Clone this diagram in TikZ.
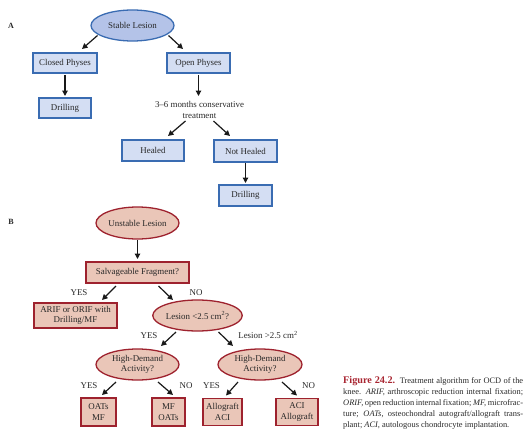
\documentclass[tikz,border=0pt]{standalone}
\usepackage{fontspec}
\setmainfont{Liberation Serif}
\usetikzlibrary{calc,shapes.geometric,arrows.meta}
\definecolor{bluebd}{RGB}{58,108,178}
\definecolor{bluefillE}{RGB}{180,195,232}
\definecolor{bluefill}{RGB}{212,222,243}
\definecolor{redbd}{RGB}{158,34,46}
\definecolor{redfill}{RGB}{234,198,184}
\definecolor{figred}{RGB}{168,36,48}
\definecolor{ink}{RGB}{40,40,40}
\tikzset{
 txt/.style={font=\fontsize{8.9}{10.5}\selectfont, text=ink},
 bA/.style={txt, draw=bluebd, line width=1.3pt, fill=bluefill, inner sep=0pt, rectangle, align=center},
 eA/.style={txt, draw=bluebd, line width=1.3pt, fill=bluefillE, ellipse, inner sep=0pt, align=center},
 bB/.style={txt, draw=redbd, line width=1.3pt, fill=redfill, inner sep=0pt, rectangle, align=center},
 eB/.style={txt, draw=redbd, line width=1.3pt, fill=redfill, ellipse, inner sep=0pt, align=center},
 arr/.style={-{Triangle[length=5.5pt,width=5.5pt]}, line width=1.2pt, black!90},
 lbl/.style={txt, inner sep=0pt},
 panel/.style={font=\bfseries\fontsize{8}{9}\selectfont, text=ink, inner sep=0pt},
}
\begin{document}
\begin{tikzpicture}[x=1pt,y=-1pt]
\useasboundingbox (0,0) rectangle (530,436);
% Panel A
\node[panel] (labA) at (11,25.5) {A};
\node[eA, minimum width=83pt, minimum height=31pt] (sl) at (132.5,25.5) {Stable Lesion};
\node[bA, minimum width=64pt, minimum height=20pt] (cp) at (65,63) {Closed Physes};
\node[bA, minimum width=63pt, minimum height=20pt] (op) at (198.5,63) {Open Physes};
\node[bA, minimum width=52pt, minimum height=20pt] (dr1) at (65,108) {Drilling};
\node[lbl, align=center] (cons) at (199.5,110) {3–6 months conservative\\treatment};
\node[bA, minimum width=62pt, minimum height=21pt] (he) at (153,150.5) {Healed};
\node[bA, minimum width=63pt, minimum height=22pt] (nh) at (245.5,151) {Not Healed};
\node[bA, minimum width=53pt, minimum height=21pt] (dr2) at (245.5,195.5) {Drilling};

\draw[arr] ($(sl)+(-35,10)$) -- ($(cp)+(17,-14)$);
\draw[arr] ($(sl)+(36,10)$) -- ($(op)+(-15.5,-14)$);
\draw[arr] ($(cp)+(0,12)$) -- ($(dr1)+(0,-12)$);
\draw[arr] ($(op)+(0,12)$) -- ($(op)+(0,33)$);
\draw[arr] ($(cons)+(-14,11)$) -- ($(he)+(15,-14.5)$);
\draw[arr] ($(cons)+(14,11)$) -- ($(nh)+(-15.5,-15)$);
\draw[arr] ($(nh)+(0,12)$) -- ($(dr2)+(0,-12.5)$);

% Panel B
\node[panel] (labB) at (11,222) {B};
\node[eB, minimum width=83pt, minimum height=32pt] (ul) at (137.5,223) {Unstable Lesion};
\node[bB, minimum width=103pt, minimum height=21pt] (sf) at (137.5,272.5) {Salvageable Fragment?};
\node[bB, minimum width=83pt, minimum height=25pt] (arif) at (75.5,315.5) {ARIF or ORIF with\\Drilling/MF};
\node[eB, minimum width=83pt, minimum height=31pt] (les) at (197.5,315.5) {Lesion <2.5 cm\textsuperscript{2}?};
\node[eB, minimum width=83pt, minimum height=31pt] (hl) at (137.5,364.5) {High-Demand\\Activity?};
\node[eB, minimum width=84pt, minimum height=31pt] (hr) at (260,364.5) {High-Demand\\Activity?};
\node[bB, minimum width=35pt, minimum height=28pt] (b1) at (98.5,412) {OATs\\MF};
\node[bB, minimum width=33pt, minimum height=28pt] (b2) at (168.5,412) {MF\\OATs};
\node[bB, minimum width=39pt, minimum height=27pt] (b3) at (222.5,412) {Allograft\\ACI};
\node[bB, minimum width=42pt, minimum height=27pt] (b4) at (297,412) {ACI\\Allograft};

\node[lbl] (y1) at (79,293) {YES};
\node[lbl] (n1) at (196,293) {NO};
\node[lbl] (y2) at (149,335.5) {YES};
\node[lbl] (n2) at (268,335) {Lesion >2.5 cm\textsuperscript{2}};
\node[lbl] (y3) at (89,386) {YES};
\node[lbl] (n3) at (186,386) {NO};
\node[lbl] (y4) at (211.5,386) {YES};
\node[lbl] (n4) at (308.5,386) {NO};

\draw[arr] ($(ul)+(0,17)$) -- ($(sf)+(0,-13.5)$);
\draw[arr] ($(sf)+(-21.5,13.5)$) -- ($(arif)+(26.5,-15.5)$);
\draw[arr] ($(sf)+(21,13.5)$) -- ($(les)+(-24.5,-15.5)$);
\draw[arr] ($(les)+(-21.5,16.5)$) -- ($(hl)+(23.5,-18.5)$);
\draw[arr] ($(les)+(21,16.5)$) -- ($(hr)+(-27,-18.5)$);
\draw[arr] ($(hl)+(-21.5,17.5)$) -- ($(b1)+(3.5,-17)$);
\draw[arr] ($(hl)+(20.5,17.5)$) -- ($(b2)+(4.5,-17)$);
\draw[arr] ($(hr)+(-22,17.5)$) -- ($(b3)+(3.5,-16.5)$);
\draw[arr] ($(hr)+(22,17.5)$) -- ($(b4)+(0,-16.5)$);

% Caption
\node[anchor=north west, inner sep=0pt, align=left, text=ink, font=\fontsize{8.4}{11}\selectfont] (cap) at (343,376.5) {%
\hbox to 180pt{{\color{figred}\fontsize{10.2}{11}\selectfont\bfseries Figure 24.2.}\ \ Treatment algorithm for OCD of the}\\
\hbox to 180pt{knee. \textit{ARIF,} arthroscopic reduction internal fixation;}\\
\hbox to 180pt{\textit{ORIF,} open reduction internal fixation; \textit{MF,} microfrac-}\\
\hbox to 180pt{ture; \textit{OATs,} osteochondral autograft/allograft trans-}\\
plant; \textit{ACI,} autologous chondrocyte implantation.};
\end{tikzpicture}
\end{document}
